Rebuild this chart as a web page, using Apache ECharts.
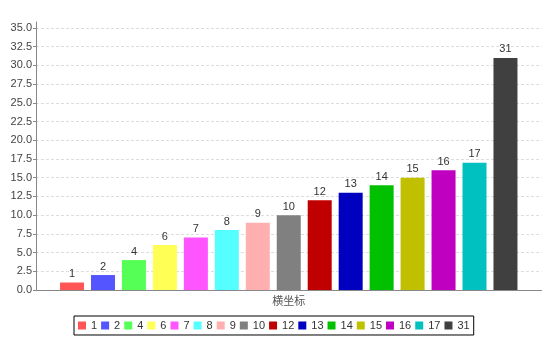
<!DOCTYPE html>
<html>
<head>
<meta charset="utf-8">
<script src="https://cdn.jsdelivr.net/npm/echarts@6/dist/echarts.min.js"></script>
<style>
html,body{margin:0;padding:0;background:#fff;}
#chart{width:558px;height:341px;}
</style>
</head>
<body>
<div id="chart"></div>
<script>
const categories = ['横坐标'];
const seriesNames = ['1','2','4','6','7','8','9','10','12','13','14','15','16','17','31'];
const seriesValues = [1,2,4,6,7,8,9,10,12,13,14,15,16,17,31];
const seriesColors = ['#FF5555','#5555FF','#55FF55','#FFFF55','#FF55FF','#55FFFF','#FFAFAF','#808080','#C00000','#0000C0','#00C000','#C0C000','#C000C0','#00C0C0','#404040'];
const yTicks = { min: 0, max: 35.8, interval: 2.5 };

const FONT = '"Liberation Sans", Arial, "Noto Sans CJK SC", sans-serif';
const chart = echarts.init(document.getElementById('chart'), null, {renderer: 'canvas'});
const series = seriesNames.map((n, i) => ({
  name: n,
  type: 'bar',
  data: [seriesValues[i]],
  barWidth: 24,
  barGap: '29%',
  itemStyle: { color: seriesColors[i] },
  label: { show: true, position: 'top', distance: 3, fontSize: 11, color: '#333', fontFamily: FONT },
  emphasis: { disabled: true },
  animation: false
}));
chart.setOption({
  animation: false,
  textStyle: { fontFamily: FONT },
  grid: { left: 36, right: 16.5, top: 22, bottom: 51, containLabel: false },
  xAxis: {
    type: 'category',
    data: categories,
    axisLine: { lineStyle: { color: '#888' } },
    axisTick: { alignWithLabel: true, length: 3, lineStyle: { color: '#888' } },
    axisLabel: { fontSize: 11, color: '#555', margin: 6, fontFamily: FONT },
    splitLine: { show: false }
  },
  yAxis: {
    type: 'value',
    min: yTicks.min, max: yTicks.max, interval: yTicks.interval,
    axisLine: { show: true, lineStyle: { color: '#888' } },
    axisTick: { show: true, length: 3, lineStyle: { color: '#888' } },
    axisLabel: { fontSize: 11, color: '#444', margin: 4, showMaxLabel: false, fontFamily: FONT,
      formatter: v => v.toFixed(1) },
    splitLine: { show: true, showMaxLine: false, showMinLine: false, lineStyle: { color: '#ddd', type: [3, 2] } }
  },
  legend: {
    data: seriesNames,
    left: 74, top: 316,
    icon: 'rect', itemWidth: 8, itemHeight: 8, itemGap: 4,
    padding: [4, 4, 4, 4],
    borderColor: '#000', borderWidth: 1,
    textStyle: { fontSize: 11, color: '#333', fontFamily: FONT },
    selectedMode: false
  },
  series: series
});
</script>
</body>
</html>
